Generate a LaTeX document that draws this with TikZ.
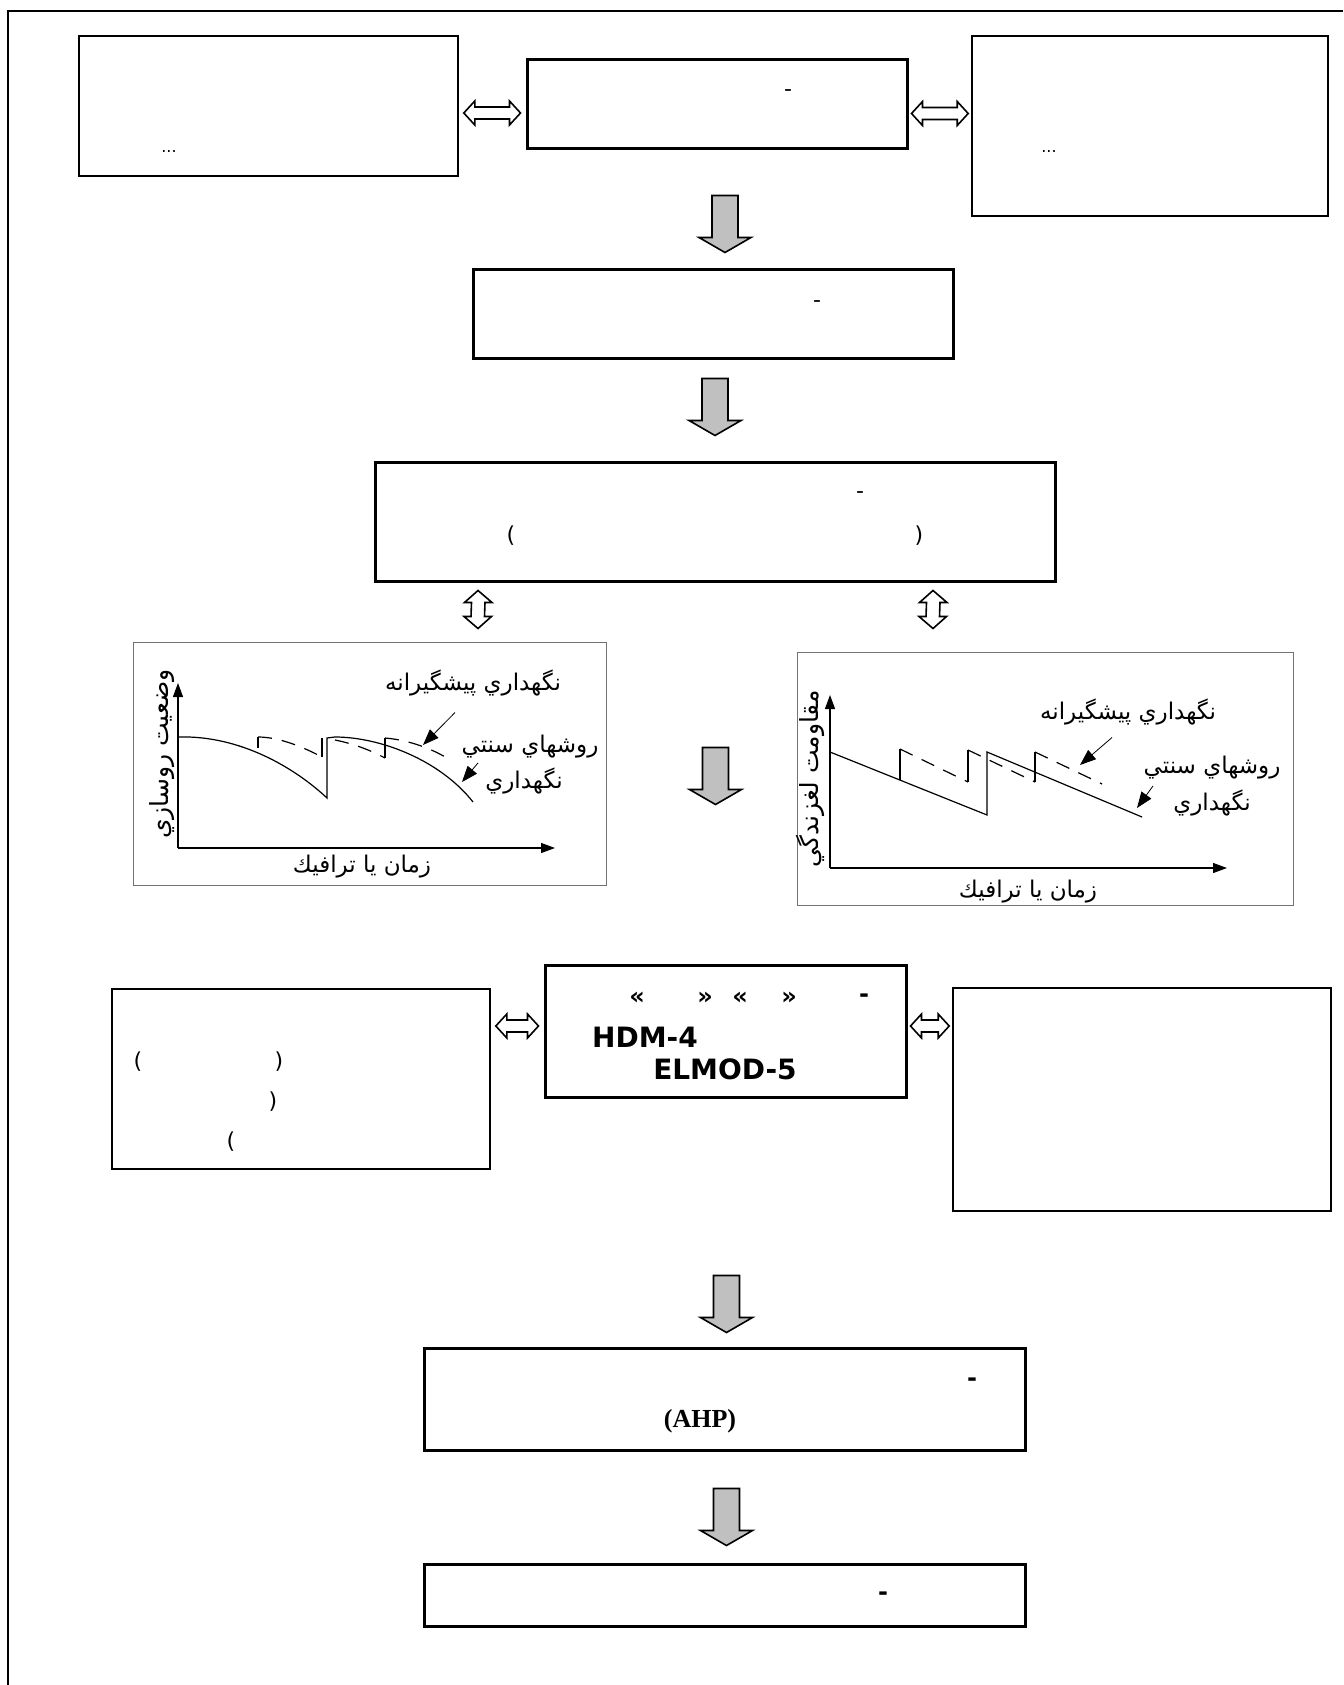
\documentclass[tikz,border=0pt]{standalone}
\usepackage{fontspec}
\setmainfont{DejaVu Sans}
\newfontfamily\fa[Script=Arabic]{DejaVu Sans}
\newfontfamily\serifbf{Liberation Serif}
\TeXXeTstate=1
\usetikzlibrary{calc,fit,arrows.meta}
\definecolor{arrgray}{HTML}{C0C0C0}

% grey block arrow pointing down onto a node
\newcommand{\blockdown}[3]{%
  \draw[blockarr] let \p1=($(#1.north)+(#2,-#3)$) in
    (\x1,\y1) -- ++(-26,-15) -- ++(13,0) -- ++(0,-42) -- ++(26,0)
    -- ++(0,42) -- ++(13,0) -- cycle;}
% hollow double arrow between two boxes side by side
\newcommand{\hdbl}[4]{%
  \draw[dblarr] let \p1=($(#1.east)+(#3,#4)$), \p2=($(#2.west)+(-#3,0)$) in
    (\x1,\y1) -- ++(11,-12) -- ++(0,6) -- (\x2-5.5pt,\y1+3pt) -- ++(0,-6)
    -- (\x2,\y1) -- ++(-11,12) -- ++(0,-6) -- (\x1+5.5pt,\y1-3pt)
    -- ++(0,6) -- cycle;}
% hollow double arrow between a box and a chart below it
\newcommand{\vdbl}[4]{%
  \draw[dblarr] let \p1=($(#1.south)+(#3,8)$), \p2=($(#2.north)+(0,-#4)$) in
    (\x1,\y1) -- ++(14,12) -- ++(-7,0) -- (\x1+3.25pt,\y2+6pt) -- ++(7,0)
    -- (\x1,\y2) -- ++(-14,-12) -- ++(7,0) -- (\x1-3.25pt,\y1-6pt)
    -- ++(-7,0) -- cycle;}

\begin{document}
\begin{tikzpicture}[x=0.5pt,y=-0.5pt]
\tikzset{thickbox/.style={draw,line width=1.5pt,inner sep=0pt},
  thinbox/.style={draw,line width=0.8pt,inner sep=0pt},
  chartbox/.style={draw=black!55,line width=0.5pt,inner sep=0pt},
  blockarr/.style={draw,line width=0.8pt,fill=arrgray,line join=miter},
  dblarr/.style={draw,line width=0.8pt,fill=white},
  curve/.style={line width=0.6pt},
  dashcurve/.style={line width=0.6pt,dash pattern=on 7pt off 5pt},
  axis/.style={line width=0.6pt,-{Triangle[length=7pt,width=5pt]}},
  pointer/.style={line width=0.4pt,-{Triangle[length=8pt,width=6pt]}},
  punct/.style={font=\fontsize{11}{13}\selectfont,inner sep=0pt},
  boldpunct/.style={font=\bfseries\fontsize{12}{14}\selectfont,inner sep=0pt},
  dots/.style={font=\fontsize{8}{9}\selectfont,inner sep=0pt},
  falabel/.style={font=\fa\fontsize{11.5}{13}\selectfont,inner sep=0pt},
  faaxis/.style={font=\fa\fontsize{12.5}{14}\selectfont,inner sep=0pt,rotate=90}}
\useasboundingbox (0,0) rectangle (1343,1685);
\draw[line width=1pt] (8,1685) -- (8,11) -- (1343,11);

% boxes
\node[thinbox,fit={(79,36) (458,176)}] (tl) {};
\node[thickbox,fit={(527,60) (907,149)}] (tm) {};
\node[thinbox,fit={(972,36) (1328,216)}] (tr) {};
\node[thickbox,fit={(473,269) (953,358)}] (b2) {};
\node[thickbox,fit={(375,462) (1055,581)}] (b3) {};
\node[chartbox,fit={(133,642) (606,885)}] (c1) {};
\node[chartbox,fit={(797,652) (1293,905)}] (c2) {};
\node[thickbox,fit={(545,965) (906,1097)}] (b4) {};
\node[thinbox,fit={(112,989) (490,1169)}] (b5) {};
\node[thinbox,fit={(953,988) (1331,1211)}] (b6) {};
\node[thickbox,fit={(424,1348) (1025,1450)}] (b7) {};
\node[thickbox,fit={(424,1564) (1025,1626)}] (b8) {};

% what is left of the box texts
\node[dots] (tldots) at (169,152) {...};
\node[dots] (trdots) at (1049,152) {...};
\node[punct] (tmdash) at (788,93) {-};
\node[punct] (b2dash) at (817,304) {-};
\node[punct] (b3dash) at (860,495) {-};
\node[punct] (b3open) at (511,536) {(};
\node[punct] (b3close) at (919,536) {)};
\node[boldpunct] (b4g1) at (637,998) {«};
\node[boldpunct] (b4g2) at (705,998) {»};
\node[boldpunct] (b4g3) at (740,998) {«};
\node[boldpunct] (b4g4) at (789,998) {»};
\node[boldpunct] (b4dash) at (864,998) {-};
\node[font=\bfseries\fontsize{14}{16}\selectfont,inner sep=0pt] (hdm) at (645,1037) {HDM-4};
\node[font=\bfseries\fontsize{14}{16}\selectfont,inner sep=0pt] (elmod) at (725,1069) {ELMOD-5};
\node[punct] (b5p1) at (138,1062) {(};
\node[punct] (b5p2) at (279,1062) {)};
\node[punct] (b5p3) at (273,1102) {)};
\node[punct] (b5p4) at (231,1142) {(};
\node[boldpunct] (b7dash) at (972,1382) {-};
\node[font=\serifbf\bfseries\fontsize{13}{15}\selectfont,inner sep=0pt] (ahp) at (700,1421) {(AHP)};
\node[boldpunct] (b8dash) at (883,1596) {-};

% connectors
\hdbl{tl}{tm}{5}{7}
\hdbl{tm}{tr}{3}{9}
\hdbl{b5}{b4}{5}{-53}
\hdbl{b4}{b6}{3}{-5}
\vdbl{b3}{c1}{-237}{13}
\vdbl{b3}{c2}{218}{23}
\blockdown{b2}{12}{15}
\blockdown{b3}{0}{25}
\blockdown{b4}{-10}{159}
\blockdown{b7}{2}{14}
\blockdown{b8}{2}{17}

% chart 1
\coordinate (c1o) at (178,848);
\coordinate (c1y) at (178,683);
\coordinate (c1x) at (555,848);
\draw[axis] (c1o) -- (c1y);
\draw[axis] (c1o) -- (c1x);
\draw[curve] (178,737) .. controls (240,735) and (295,768) .. (327,798)
  -- (327,738) -- (335,737) .. controls (380,737) and (440,760) .. (473,802);
\draw[curve] (258,748) -- (258,737) (322,757) -- (322,738) (385,758) -- (385,738);
\draw[dashcurve] (258,737) .. controls (280,737) and (305,748) .. (322,757);
\draw[dashcurve] (335,740) .. controls (355,744) and (372,751) .. (385,758);
\draw[dashcurve] (385,738) .. controls (410,740) and (435,750) .. (450,760);
\node[falabel] (c1pre) at (473,683) {\beginR نگهداري پيشگيرانه\endR};
\node[falabel] (c1old) at (530,747) {\beginR روشهاي سنتي\endR};
\node[falabel] (c1old2) at (524,781) {\beginR نگهداري\endR};
\node[falabel] (c1time) at (362,867) {\beginR زمان يا ترافيك\endR};
\node[faaxis] (c1cond) at (162,754) {\beginR وضعيت روسازي\endR};
\coordinate (c1t1) at (423,745);
\coordinate (c1t2) at (462,782);
\draw[pointer] ($(c1pre.south)+(-18,16)$) -- (c1t1);
\draw[pointer] ($(c1old.south)+(-52,4)$) -- (c1t2);

% chart 2
\coordinate (c2o) at (830,868);
\coordinate (c2y) at (830,695);
\coordinate (c2x) at (1227,868);
\draw[axis] (c2o) -- (c2y);
\draw[axis] (c2o) -- (c2x);
\draw[curve] (830,752) -- (987,815) -- (987,752) -- (1142,817);
\draw[curve] (900,780) -- (900,749) (968,782) -- (968,750) (1035,782) -- (1035,752);
\draw[dashcurve] (900,749) -- (968,782);
\draw[dashcurve] (968,750) -- (1035,782);
\draw[dashcurve] (1035,752) -- (1102,784);
\node[falabel] (c2pre) at (1128,712) {\beginR نگهداري پيشگيرانه\endR};
\node[falabel] (c2old) at (1212,768) {\beginR روشهاي سنتي\endR};
\node[falabel] (c2old2) at (1212,803) {\beginR نگهداري\endR};
\node[falabel] (c2time) at (1028,892) {\beginR زمان يا ترافيك\endR};
\node[faaxis] (c2skid) at (810,779) {\beginR مقاومت لغزندگي\endR};
\coordinate (c2t1) at (1080,765);
\coordinate (c2t2) at (1137,808);
\draw[pointer] ($(c2pre.south)+(-16,12)$) -- (c2t1);
\draw[pointer] ($(c2old.south)+(-59,6)$) -- (c2t2);
\end{tikzpicture}
\end{document}
